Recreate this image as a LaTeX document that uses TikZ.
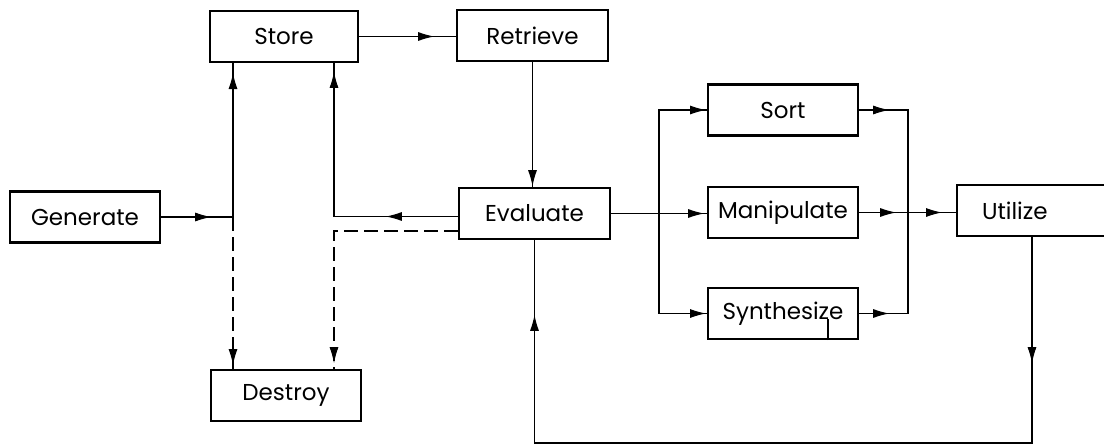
\documentclass[tikz,border=0pt]{standalone}
\usepackage{fontspec}
\setmainfont{Poppins}
\usetikzlibrary{arrows.meta,decorations.markings}
\begin{document}
\begin{tikzpicture}[x=1pt,y=-1pt,
  box/.style={draw,line width=2.3pt,minimum width=150pt,minimum height=51pt,
    inner sep=0pt,font=\fontsize{23}{27}\selectfont},
  link/.style={line width=1.8pt},
  dashlink/.style={link,dash pattern=on 14pt off 6pt},
  tipat/.style={postaction={decorate,decoration={markings,
    mark=at position #1 with {\arrow[line width=1pt]{Latex[length=16pt,width=9pt]}}}}},
]
\useasboundingbox[fill=white] (0,0) rectangle (1104,445);

% boxes
\node[box] (gen)     at (85,217)    {Generate};
\node[box,minimum width=148pt] (store) at (284,36.5) {Store};
\node[box] (destroy) at (286,395.5) {Destroy};
\node[box,minimum width=151pt] (retr) at (532.5,35.5) {Retrieve};
\node[box,minimum width=151pt] (eval) at (534.5,213.5) {Evaluate};
\node[box] (sort)    at (783,110)   {Sort};
\node[box] (man)     at (783,212.5) {Manipulate};
\node[box] (syn)     at (783,313.5) {Synthesize};
\node[box,minimum width=154pt,text width=104pt,inner xsep=25pt,align=left]
  (util) at (1034,210.5) {Utilize};

% junction points
\coordinate (jl) at (233,217);
\coordinate (sr) at ([xshift=50pt]store.south);
\coordinate (dr) at ([xshift=48pt]destroy.north);
\coordinate (br) at (659,213.5);
\coordinate (mg) at (908,212.5);
\coordinate (ld) at (1032,443);

% generate / store / destroy
\draw[link,tipat=50pt] (gen.east) -- (jl);
\draw[link,tipat=144pt] (jl) -- (jl |- store.south);
\draw[dashlink,tipat=148pt] (jl) -- (jl |- destroy.north);
\draw[link,tipat=72pt,tipat=268.5pt] ([yshift=-3pt]eval.west) -| (sr);
\draw[dashlink,tipat=256pt] ([yshift=-17.5pt]eval.west) -| (dr);

% store -> retrieve -> evaluate
\draw[link,tipat=75pt] (store.east) -- (store.east -| retr.west);
\draw[link,tipat=124pt] (retr.south) -- (retr.south |- eval.north);

% evaluate -> sort / manipulate / synthesize
\draw[link,tipat=93pt] (eval.east) -- (eval.east -| man.west);
\draw[link,tipat=150.5pt] (br) |- (sort.west);
\draw[link,tipat=147pt] (br) |- (syn.west);
\draw[link] ([xshift=45pt]syn.south) -- ++(0,-21);

% merge -> utilize
\draw[link,tipat=30pt] (sort.east) -| (mg);
\draw[link,tipat=30pt] (syn.east) -| (mg);
\draw[link,tipat=37pt] (man.east) -- (mg);
\draw[link,tipat=34pt] (mg) -- (mg -| util.west);

% feedback loop
\draw[link,tipat=126pt,tipat=831.5pt] ([xshift=-2pt]util.south) -- (ld) -| (eval.south);
\end{tikzpicture}
\end{document}
